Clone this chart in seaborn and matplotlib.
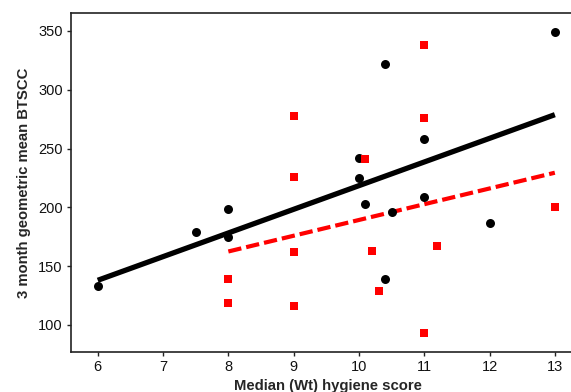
import matplotlib
matplotlib.use("Agg")
import matplotlib.pyplot as plt
import numpy as np
import pandas as pd
import seaborn as sns

# Black group (circles)
black_x = [6, 7.5, 8, 8, 10, 10, 10.1, 10.4, 10.5, 10.4, 11, 11, 12, 13]
black_y = [133, 179, 199, 175, 242, 225, 203, 322, 196, 139, 258, 209, 187, 349]

# Red group (squares)
red_x = [8, 8, 9, 9, 9, 9, 10.1, 10.2, 10.3, 11, 11, 11, 11.2, 13]
red_y = [139, 119, 278, 226, 162, 116, 241, 163, 129, 338, 276, 93, 167, 200]

x_ticks = [6, 7, 8, 9, 10, 11, 12, 13]
y_ticks = [100, 150, 200, 250, 300, 350]

df_black = pd.DataFrame({"score": black_x, "btscc": black_y})
df_red = pd.DataFrame({"score": red_x, "btscc": red_y})

sns.set_style("ticks")
plt.rcParams["font.family"] = ["Liberation Sans", "DejaVu Sans"]

fig = plt.figure(figsize=(5.71, 3.92), dpi=100)
# axes run past the right edge, as in the cropped original
ax = fig.add_axes([0.1243, 0.102, 0.9, 0.865])

sns.regplot(data=df_black, x="score", y="btscc", ci=None, ax=ax,
            marker="o", color="black",
            scatter_kws={"s": 42, "linewidths": 0, "alpha": 1, "zorder": 3},
            line_kws={"lw": 3.8, "solid_capstyle": "butt", "zorder": 2})
sns.regplot(data=df_red, x="score", y="btscc", ci=None, ax=ax,
            marker="s", color="#ff0000",
            scatter_kws={"s": 40, "linewidths": 0, "alpha": 1, "zorder": 3},
            line_kws={"lw": 3.0, "ls": (0, (3.2, 1.2)), "zorder": 2})

ax.set_xlim(5.59, 13.46)
ax.set_ylim(77, 365.3)
ax.set_xticks(x_ticks)
ax.set_yticks(y_ticks)
ax.tick_params(labelsize=10.5, length=3, width=1, pad=3,
               colors="#222222", labelcolor="#111111")

for side in ["left", "bottom", "top"]:
    ax.spines[side].set_linewidth(1.2)
    ax.spines[side].set_color("#222222")
ax.spines["right"].set_visible(False)

ax.set_xlabel("Median (Wt) hygiene score", fontsize=10.7, fontweight="bold",
              labelpad=3)
ax.set_ylabel("3 month geometric mean BTSCC", fontsize=10.7,
              fontweight="bold", labelpad=5)

fig.savefig("out.png", dpi=100)
